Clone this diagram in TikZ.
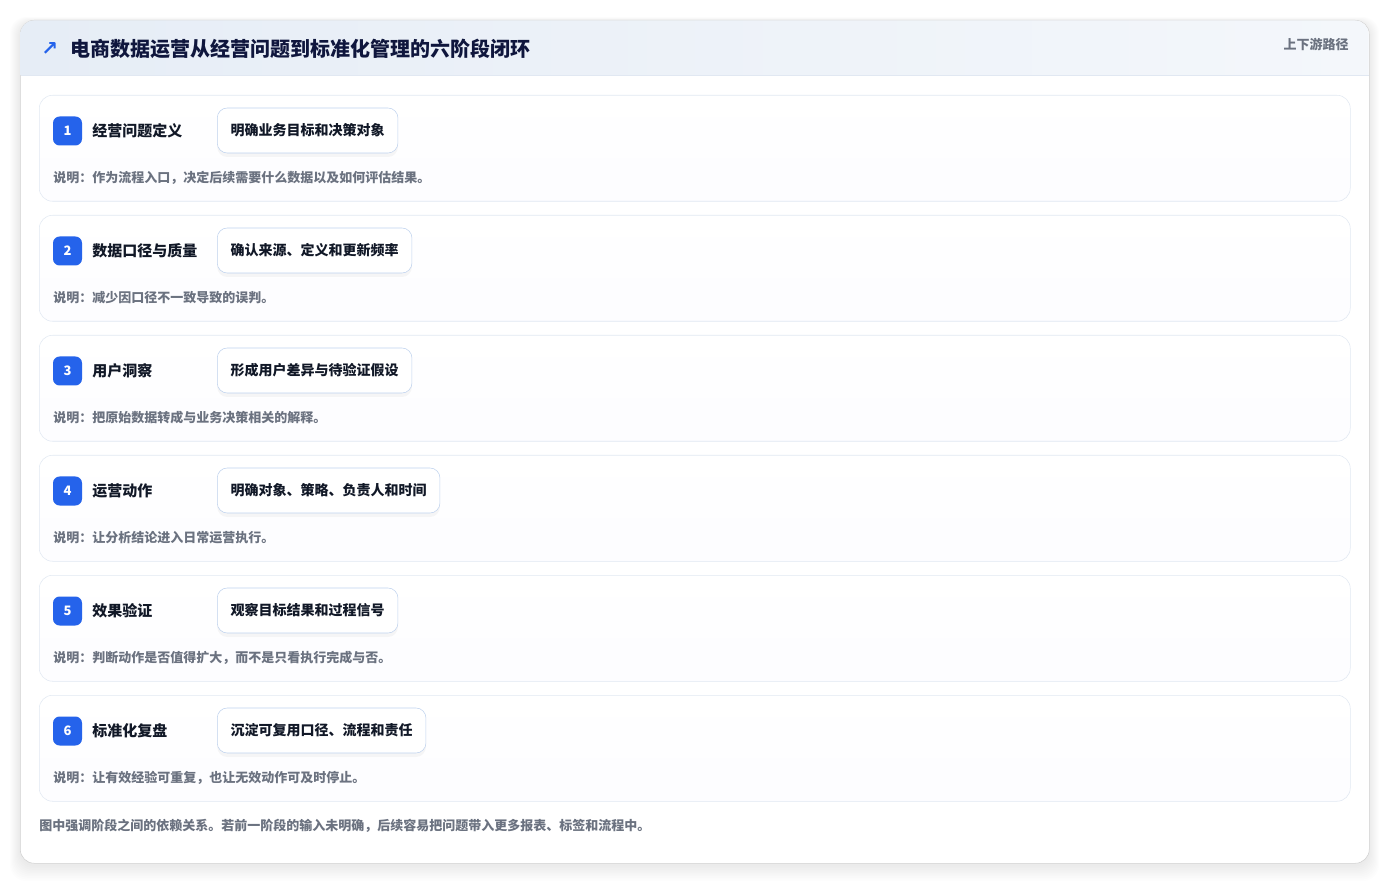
\documentclass[tikz,border=0pt]{standalone}
\usepackage{fontspec}
\setmainfont{Noto Sans CJK SC}
\newfontfamily\symfont{DejaVu Sans}
\usepackage{tikz}
\usetikzlibrary{positioning,shadows}
\definecolor{brand}{HTML}{2563EB}
\definecolor{ink}{HTML}{111827}
\definecolor{muted}{HTML}{6B7280}
\definecolor{edge}{HTML}{E1E8F2}
\definecolor{pilledge}{HTML}{BFD2EE}
\definecolor{headl}{HTML}{E6EDF6}
\definecolor{headr}{HTML}{F4F7FB}

\begin{document}
\begin{tikzpicture}[x=0.75pt,y=-0.75pt,
    card/.style={draw=edge,rounded corners=10pt,top color=white,bottom color=blue!1!white,
        minimum width=983.25pt,minimum height=79.5pt,anchor=north west,inner sep=0pt},
    badge/.style={fill=brand,rounded corners=5pt,minimum size=21.75pt,inner sep=0pt,
        text=white,font=\bfseries\fontsize{9.75pt}{10pt}\selectfont},
    stitle/.style={anchor=west,inner sep=0pt,text=ink,font=\bfseries\fontsize{11.25pt}{12pt}\selectfont},
    pill/.style={draw=pilledge,fill=white,rounded corners=7.5pt,anchor=west,inner xsep=10pt,
        minimum height=33.75pt,text=ink,font=\bfseries\fontsize{10.5pt}{11pt}\selectfont,
        drop shadow={shadow xshift=0pt,shadow yshift=-3pt,opacity=0.035,fill=black}},
    desc/.style={anchor=west,inner sep=0pt,text=muted,font=\bfseries\fontsize{9.75pt}{10pt}\selectfont}]
    \useasboundingbox (0,0) rectangle (1390,884);
    \fill[white] (0,0) rectangle (1390,884);
    % soft shadow round the panel
    \foreach \d in {1,...,10}
        \fill[black,opacity=0.008,rounded corners=12pt] (20-\d,22-\d*0.5) rectangle (1369+\d,865+\d*1.6);
    \node[draw=black!18,fill=white,rounded corners=10.5pt,minimum width=1011.75pt,minimum height=632.25pt,
        anchor=north west,inner sep=0pt] (panel) at (20,20) {};
    % header band
    \shade[left color=headl,right color=headr] (20.5,75) [rounded corners=10pt] -- (20.5,20.5) -- (1368.5,20.5)
        [sharp corners] -- (1368.5,75) -- cycle;
    \draw[edge] (20.5,75) -- (1368.5,75);
    \node[anchor=west,inner sep=0pt,text=brand,font=\symfont\bfseries\fontsize{15pt}{15pt}\selectfont] (arr) at (41,49) {↗};
    \node[anchor=west,inner sep=0pt,text=ink!90!blue,font=\bfseries\fontsize{15pt}{16pt}\selectfont] (ttl) at (70,49)
        {电商数据运营从经营问题到标准化管理的六阶段闭环};
    \node[anchor=east,inner sep=0pt,text=muted,font=\bfseries\fontsize{9.75pt}{10pt}\selectfont] (route) at (1349,44) {上下游路径};

    % stages
    \node[card] (s1) at (39,95) {};
    \node[badge] (b1) at (67.5,131) {1};
    \node[stitle] (t1) at (92,131) {经营问题定义};
    \node[pill] (p1) at (217,130.5) {明确业务目标和决策对象};
    \node[desc] (d1) at (53,178) {说明：作为流程入口，决定后续需要什么数据以及如何评估结果。};

    \node[card] (s2) at (39,215) {};
    \node[badge] (b2) at (67.5,251) {2};
    \node[stitle] (t2) at (92,251) {数据口径与质量};
    \node[pill] (p2) at (217,250.5) {确认来源、定义和更新频率};
    \node[desc] (d2) at (53,298) {说明：减少因口径不一致导致的误判。};

    \node[card] (s3) at (39,335) {};
    \node[badge] (b3) at (67.5,371) {3};
    \node[stitle] (t3) at (92,371) {用户洞察};
    \node[pill] (p3) at (217,370.5) {形成用户差异与待验证假设};
    \node[desc] (d3) at (53,418) {说明：把原始数据转成与业务决策相关的解释。};

    \node[card] (s4) at (39,455) {};
    \node[badge] (b4) at (67.5,491) {4};
    \node[stitle] (t4) at (92,491) {运营动作};
    \node[pill] (p4) at (217,490.5) {明确对象、策略、负责人和时间};
    \node[desc] (d4) at (53,538) {说明：让分析结论进入日常运营执行。};

    \node[card] (s5) at (39,575) {};
    \node[badge] (b5) at (67.5,611) {5};
    \node[stitle] (t5) at (92,611) {效果验证};
    \node[pill] (p5) at (217,610.5) {观察目标结果和过程信号};
    \node[desc] (d5) at (53,658) {说明：判断动作是否值得扩大，而不是只看执行完成与否。};

    \node[card] (s6) at (39,695) {};
    \node[badge] (b6) at (67.5,731) {6};
    \node[stitle] (t6) at (92,731) {标准化复盘};
    \node[pill] (p6) at (217,730.5) {沉淀可复用口径、流程和责任};
    \node[desc] (d6) at (53,778) {说明：让有效经验可重复，也让无效动作可及时停止。};

    \node[desc] (note) at (39,826) {图中强调阶段之间的依赖关系。若前一阶段的输入未明确，后续容易把问题带入更多报表、标签和流程中。};
\end{tikzpicture}
\end{document}
